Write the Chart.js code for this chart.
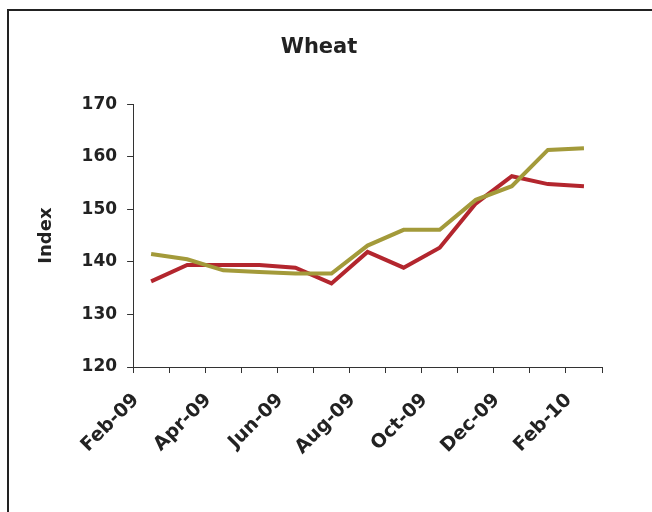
<!DOCTYPE html>
<html>
<head>
<meta charset="utf-8">
<script src="https://cdn.jsdelivr.net/npm/chart.js@4"></script>
<style>
    html, body { margin: 0; padding: 0; background: #fff; overflow: hidden; }
    #wrap { position: relative; width: 652px; height: 512px; }
    #frame { position: absolute; left: 7px; top: 9px; width: 700px; height: 600px; border: 2px solid #222; }
    #chart_canvas { position: absolute; left: 0; top: 0; }
</style>
</head>
<body>
<div id="wrap">
    <div id="frame"></div>
    <canvas id="chart_canvas" width="652" height="512"></canvas>
</div>
<script>
const months = ["Feb-09", "Mar-09", "Apr-09", "May-09", "Jun-09", "Jul-09", "Aug-09",
                "Sep-09", "Oct-09", "Nov-09", "Dec-09", "Jan-10", "Feb-10"];
const olive_values = [141.5, 140.5, 138.4, 138.1, 137.8, 137.8, 143.1, 146.1, 146.1, 151.8, 154.4, 161.3, 161.6];
const red_values = [136.3, 139.4, 139.4, 139.4, 138.9, 135.9, 141.9, 138.9, 142.7, 151.1, 156.3, 154.8, 154.4];
const y_ticks = [120, 130, 140, 150, 160, 170];

document.addEventListener("DOMContentLoaded", ()=>{
    draw_chart();
});

function draw_chart(){
    let canvas = document.getElementById("chart_canvas");
    let font_family = "'DejaVu Sans', sans-serif";

    new Chart(canvas, {
        type: "line",
        data: {
            labels: months,
            datasets: [
                {
                    label: "Series 1",
                    data: olive_values,
                    borderColor: "#A39A3A",
                    borderWidth: 4,
                    pointRadius: 0,
                    tension: 0
                },
                {
                    label: "Series 2",
                    data: red_values,
                    borderColor: "#B3262E",
                    borderWidth: 4,
                    pointRadius: 0,
                    tension: 0
                }
            ]
        },
        options: {
            responsive: false,
            animation: false,
            layout: { padding: { left: 36, right: 50, top: 0, bottom: 37 } },
            plugins: {
                legend: { display: false },
                tooltip: { enabled: false },
                title: {
                    display: true,
                    text: "Wheat",
                    color: "#222",
                    font: { family: font_family, size: 21, weight: "bold" },
                    padding: { top: 35, bottom: 44 }
                }
            },
            scales: {
                x: {
                    offset: true,
                    grid: { offset: true, drawOnChartArea: false, drawTicks: true, tickLength: 6, color: "#333", lineWidth: 1 },
                    border: { display: true, color: "#333", width: 1 },
                    ticks: {
                        autoSkip: false,
                        maxRotation: 45,
                        minRotation: 45,
                        padding: 16,
                        labelOffset: -15,
                        color: "#222",
                        font: { family: font_family, size: 19, weight: "bold" },
                        callback: function(value, index){
                            return index % 2 == 0 ? months[index] : "";
                        }
                    }
                },
                y: {
                    min: y_ticks[0],
                    max: y_ticks[y_ticks.length - 1],
                    afterBuildTicks: function(axis){
                        axis.ticks = y_ticks.map(v => ({ value: v }));
                    },
                    grid: { drawOnChartArea: false, drawTicks: true, tickLength: 6, color: "#333", lineWidth: 1 },
                    border: { display: true, color: "#333", width: 1 },
                    title: {
                        display: true,
                        text: "Index",
                        color: "#222",
                        font: { family: font_family, size: 18, weight: "bold" },
                        padding: { top: 0, bottom: 14 }
                    },
                    ticks: {
                        padding: 10,
                        color: "#222",
                        font: { family: font_family, size: 17, weight: "bold" }
                    }
                }
            }
        }
    });
}
</script>
</body>
</html>
